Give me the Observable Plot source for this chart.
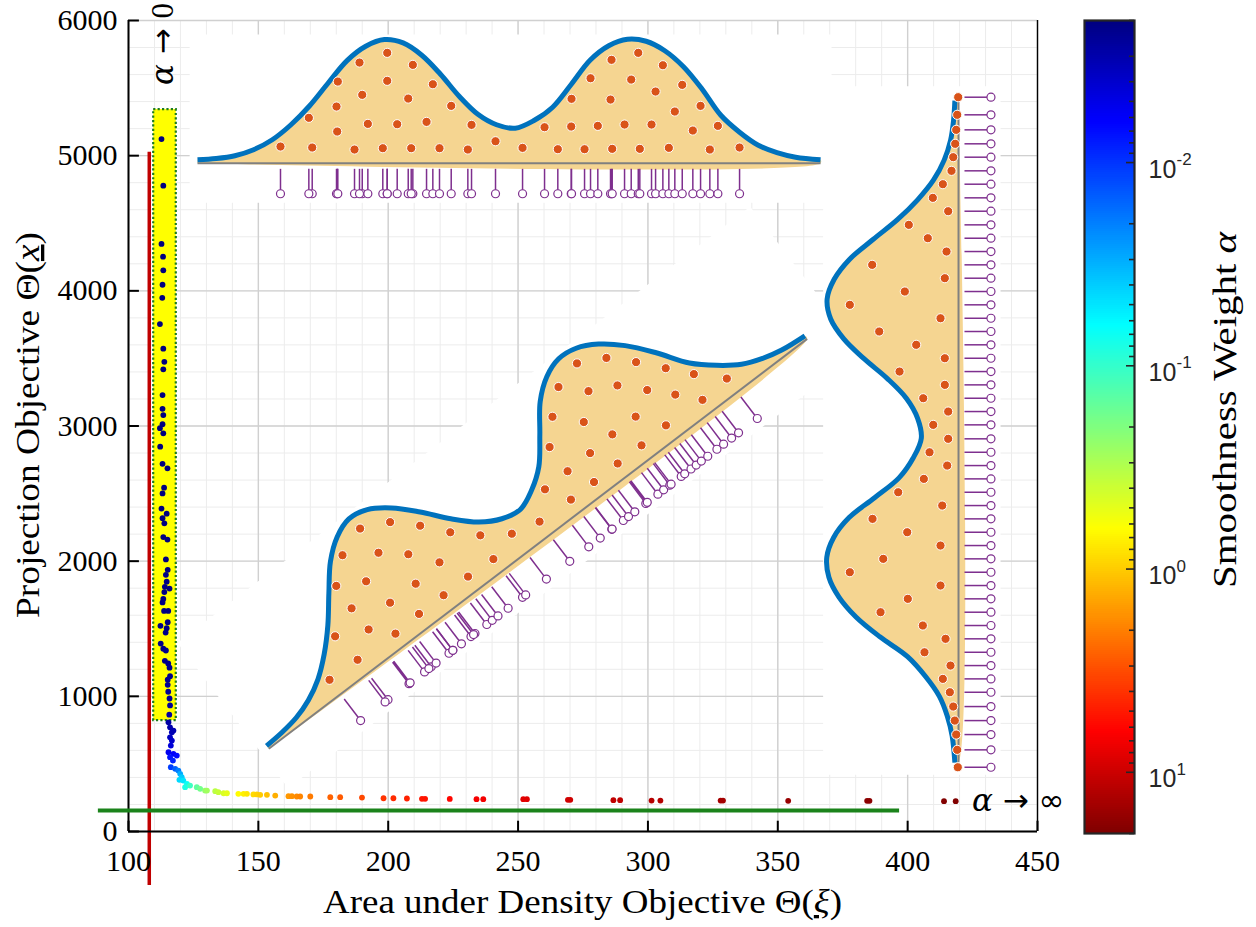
<!DOCTYPE html>
<html><head><meta charset="utf-8">
<script src="https://cdn.jsdelivr.net/npm/d3@7"></script>
<script src="https://cdn.jsdelivr.net/npm/@observablehq/plot@0.6"></script>
<style>
html,body{margin:0;padding:0;background:#fff;}
#wrap{position:relative;width:1256px;height:927px;overflow:hidden;background:#fff;}
#wrap svg{position:absolute;top:0;overflow:visible;}
</style></head><body><div id="wrap"></div>
<script>
// ---------------- data ----------------
const frontX = [112.7,113.4,112.7,113.3,113.4,113.1,113.0,112.1,113.4,113.8,113.4,113.1,113.1,113.4,113.1,112.1,113.4,112.2,113.1,115.0,113.7,113.1,112.7,114.7,113.1,113.8,113.4,115.0,114.4,115.1,114.4,114.7,114.0,115.8,113.8,113.4,113.1,113.7,115.3,115.1,112.3,114.7,114.3,112.4,113.4,114.4,114.0,115.3,115.8,116.0,115.1,115.1,115.3,115.8,116.0,115.7,
115.4,116.0,116.7,117.3,116.0,116.7,116.3,115.4,117.3,118.6,116.0,117.1,116.3,118.0,119.2,119.9,120.5,119.6,121.1,122.5,121.8,123.7,126.3,127.6,129.5,130.2,133.4,134.6,136.6,137.9,142.3,144.3,145.6,148.1,149.4,150.7,153.3,156.5,161.6,162.9,164.8,166.1,170.0,177.7,181.5,189.9,198.2,202.0,207.2,213.0,214.2,
223.7,234.0,236.6,252.0,253.4,269.2,270.1,286.7,289.3,301.4,304.8,328.0,328.9,354.0,384.4,385.3,414.0,418.5];
const frontY = [5123,4778,4347,4253,4152,4045,3948,3754,3572,3475,3419,3229,3127,3081,3013,2984,2946,2847,2720,2687,2544,2501,2389,2351,2318,2280,2178,2160,2013,1936,1899,1848,1810,1797,1771,1720,1695,1632,1632,1548,1522,1504,1472,1390,1352,1339,1263,1243,1212,1149,1123,1085,1034,984,933,864,
808,771,734,747,697,673,636,587,575,562,550,525,476,464,451,427,402,382,377,353,328,340,328,316,303,303,298,291,283,283,279,279,279,274,274,271,271,266,261,261,259,259,259,254,254,251,246,246,244,242,242,
241,239,239,239,239,234,234,232,232,229,229,229,229,227,227,227,224,224];
const frontAlpha = [0.0020,0.0020,0.0020,0.0020,0.0020,0.0020,0.0020,0.0020,0.0020,0.0020,0.0020,0.0020,0.0020,0.0020,0.0020,0.0020,0.0020,0.0020,0.0020,0.0020,0.0020,0.0020,0.0020,0.0020,0.0020,0.0020,0.0020,0.0020,0.0020,0.0020,
0.0021,0.0021,0.0021,0.0021,0.0021,0.0021,0.0021,0.0021,0.0021,0.0021,0.0022,0.0022,0.0022,0.0022,0.0022,0.0022,0.0022,0.0022,0.0023,0.0023,0.0024,0.0024,0.0025,0.0025,0.0026,0.0027,
0.0028,0.003,0.0033,0.0032,0.0036,0.004,0.0045,0.0055,0.006,0.0068,0.0075,0.0085,0.011,0.015,0.02,0.03,0.04,0.045,0.05,0.07,0.08,0.11,0.15,0.18,0.24,0.27,0.34,0.38,0.45,0.5,0.65,0.72,0.78,0.88,0.94,1.0,1.1,1.3,1.6,1.7,1.8,1.9,2.1,2.6,2.8,3.3,4.0,4.3,4.7,5.2,5.3,
6.0,6.8,7.0,8.2,8.3,9.6,9.7,11.0,11.2,12.2,12.4,14.2,14.3,16.0,17.8,17.9,19.4,19.6];

// density profile of the insets (position along baseline 0..1000, height)
const densityU = [0,30,60,90,120,150,180,210,240,270,300,330,360,390,420,450,480,510,540,570,600,630,660,690,720,750,780,810,840,870,900,930,960,1000];
const densityH = [5.5,7.5,12,21.7,37.7,61.8,92.3,129.2,164.8,187.8,198.5,193.1,173.3,142.8,107.5,78.6,61.8,56.2,68.5,89.9,126.8,165.3,188.6,199,195.8,180.6,154.9,118.8,77,49.8,28.9,16.9,9.6,5.5];

// samples shown in the top and diagonal insets
const sampleU = [133.2,184.1,178.7,224.2,223.1,225.2,252.0,264.4,260.0,273.4,297.4,304.5,304.5,320.5,338.2,345.6,343.0,367.6,377.7,388.4,407.2,433.9,439.8,478.3,521.7,557.0,578.3,599.8,600.3,621.2,630.8,642.5,664.5,662.9,665.6,685.4,696.1,707.4,709.9,728.7,735.2,746.9,756.5,766.1,778.0,795.0,807.4,822.3,835.2,870.0];
const sampleH = [26.8,25.2,72.9,50.9,91.0,131.1,22.0,109.8,161.6,63.2,24.1,132.3,177.2,62.6,103.8,157.9,24.1,66.4,126.8,24.1,92.1,22.0,61.6,35.3,24.7,57.8,22.5,58.9,103.4,22.5,136.4,60.0,166.0,102.2,23.1,62.1,134.3,177.2,23.1,62.1,115.1,157.3,24.7,83.0,125.8,52.5,92.1,22.0,60.0,25.2];

// samples shown in the right inset
const rightU = [-5.0,21.6,44.3,65.4,85.6,106.2,126.4,147.0,167.2,187.8,208.0,228.1,248.2,268.4,288.5,308.6,328.9,348.9,369.0,389.3,409.4,429.5,449.7,469.8,489.9,511.0,531.3,551.4,571.5,591.7,611.8,631.9,652.1,672.2,692.3,712.5,732.6,752.7,772.9,793.0,813.1,833.4,853.5,873.6,893.8,915.4,936.6,957.7,980.8,1007.1];
const rightH = [0.5,2.0,3.5,5.0,8.0,10.6,23.7,38.8,15.6,75.1,46.4,18.1,130.4,20.7,81.1,164.2,27.2,119.8,63.9,20.7,89.1,20.7,53.3,15.6,38.2,15.6,43.8,17.1,52.4,91.1,24.6,129.9,77.5,27.2,113.7,164.2,27.2,76.6,117.8,53.9,19.6,51.4,12.1,23.7,13.1,8.0,5.6,3.5,2.0,1.1];

// limits / annotations
const xLimit = 108.0, xLimitTop = 5026, xLimitBottom = -400;
const yLimit = 155, yLimitLeft = 88.4, yLimitRight = 396.9;
const boxX = [109.7, 118.4], boxY = [821, 5341];

const xTicks = [100,150,200,250,300,350,400,450];
const yTicks = [0,1000,2000,3000,4000,5000,6000];
const cbMajor = [0.01,0.1,1,10];
const cbExp = ["-2","-1","0","1"];
const alphaDomain = [0.002, 20];

// ---------------- derived ----------------
const xMinor = d3.range(100, 451, 10);
const yMinor = d3.range(0, 6001, 200);
const cbMinor = [0.001,0.01,0.1,1,10].flatMap(d => [2,3,4,5,6,7,8,9].map(k => k*d)).filter(v => v >= 0.002 && v <= 20);

const jet = d3.piecewise(d3.interpolateRgb, ["#00007f","#0000ff","#007fff","#00ffff","#7fff7f","#ffff00","#ff7f00","#ff0000","#7f0000"]);
const colorOpts = {type: "log", domain: alphaDomain, interpolate: jet};

const front = frontX.map((x, i) => ({x, y: frontY[i], alpha: frontAlpha[i]}));

// inset frames (origin and unit vectors, in data units)
const frames = {
  top:   {ox: 126.57, oy: 4944, ux: 0.2399, uy: 0, hx: 0, hy: 4.609, halo: [-11, 1016, -62, 205]},
  diag:  {ox: 154.02, oy: 611.8, ux: 0.2073, uy: 3.033, hx: -0.1579, hy: 3.983, halo: [-11, 1050, -62, 205]},
  right: {ox: 419.59, oy: 5408, ux: 0, uy: -4.898, hx: -0.2549, hy: 0, halo: [-20, 1017, -62, 203]}
};
const place = (f, u, h) => ({x: f.ox + f.ux*u + f.hx*h, y: f.oy + f.uy*u + f.hy*h});

const C = {fill: "#f5d591", curve: "#0072bd", base: "#808080", purple: "#7e2f8e", dot: "#d95319"};

function haloMark(f) {
  const [u0, u1, h0, h1] = f.halo;
  const pts = [place(f,u0,h0), place(f,u1,h0), place(f,u1,h1), place(f,u0,h1), place(f,u0,h0)];
  return Plot.line(pts, {x: "x", y: "y", fill: "white", stroke: "white", strokeWidth: 2});
}
function insetMarks(f, dotsU, dotsH, stemsU) {
  const curve = densityU.map((u, i) => place(f, u, densityH[i]));
  const fillPts = [...curve, place(f, 1000, 0), place(f, 0, 0)];
  const stems = stemsU.map(u => ({a: place(f, u, -9), b: place(f, u, -49)}));
  const base = [{a: place(f, 0, 0), b: place(f, 1000, 0)}];
  const dots = dotsU.map((u, i) => place(f, u, dotsH[i]));
  return [
    Plot.line(fillPts, {x: "x", y: "y", fill: C.fill, stroke: "none", curve: "catmull-rom"}),
    Plot.link(base, {x1: d => d.a.x, y1: d => d.a.y, x2: d => d.b.x, y2: d => d.b.y, stroke: C.base, strokeWidth: 2}),
    Plot.line(curve, {x: "x", y: "y", stroke: C.curve, strokeWidth: 5, curve: "catmull-rom", strokeLinecap: "butt"}),
    Plot.link(stems, {x1: d => d.a.x, y1: d => d.a.y, x2: d => d.b.x, y2: d => d.b.y, stroke: C.purple, strokeWidth: 1.5}),
    Plot.dot(stems, {x: d => d.b.x, y: d => d.b.y, r: 4, stroke: C.purple, fill: "white", strokeWidth: 1.2}),
    Plot.dot(dots, {x: "x", y: "y", r: 4.6, fill: C.dot, stroke: "white", strokeWidth: 1})
  ];
}

const main = Plot.plot({
  width: 1256, height: 927,
  marginLeft: 128, marginRight: 219, marginTop: 20, marginBottom: 96,
  x: {domain: [100, 450]},
  y: {domain: [0, 6000]},
  color: colorOpts,
  style: {fontFamily: "'Liberation Serif', serif", fontSize: "30px", background: "transparent", color: "black", overflow: "visible"},
  marks: [
    Plot.ruleX(xMinor, {x: d => d, stroke: "#ececec", strokeWidth: 1}),
    Plot.ruleY(yMinor, {y: d => d, stroke: "#ececec", strokeWidth: 1}),
    Plot.ruleX(xTicks, {x: d => d, stroke: "#d0d0d0", strokeWidth: 1.4}),
    Plot.ruleY(yTicks, {y: d => d, stroke: "#d0d0d0", strokeWidth: 1.4}),
    haloMark(frames.top), haloMark(frames.diag), haloMark(frames.right),
    ...insetMarks(frames.top, sampleU, sampleH, sampleU),
    ...insetMarks(frames.diag, sampleU, sampleH, sampleU),
    ...insetMarks(frames.right, rightU, rightH, rightU),
    Plot.rect([0], {x1: boxX[0], x2: boxX[1], y1: boxY[0], y2: boxY[1], fill: "#ffff00", stroke: "#1e7d1e", strokeWidth: 2.2, strokeDasharray: "2.2,2.2"}),
    Plot.ruleX([xLimit], {x: d => d, y1: xLimitBottom, y2: xLimitTop, stroke: "#c00000", strokeWidth: 3.5}),
    Plot.ruleY([0], {y: d => d, stroke: "black", strokeWidth: 2}),
    Plot.ruleX([100], {x: d => d, stroke: "black", strokeWidth: 2}),
    Plot.ruleX([450], {x: d => d, y1: 0, y2: 6000, stroke: "black", strokeWidth: 1.4}),
    Plot.ruleX(xTicks, {x: d => d, y1: 0, y2: 76, stroke: "black", strokeWidth: 2}),
    Plot.ruleY(yTicks, {y: d => d, x1: 100, x2: 104.2, stroke: "black", strokeWidth: 2}),
    Plot.ruleY([yLimit], {y: d => d, x1: yLimitLeft, x2: yLimitRight, stroke: "#1b831b", strokeWidth: 4}),
    Plot.dot(front, {x: "x", y: "y", fill: "alpha", r: 2.9}),
    Plot.axisX({ticks: xTicks, tickSize: 0, tickPadding: 18, label: null, fontSize: 30, tickFormat: "d"}),
    Plot.axisY({ticks: yTicks, tickSize: 0, tickPadding: 11, label: null, fontSize: 30, tickFormat: "d"})
  ]
});
main.style.left = "0px";
document.getElementById("wrap").appendChild(main);

// colorbar
const l0 = Math.log10(alphaDomain[0]), l1 = Math.log10(alphaDomain[1]);
const N = 400;
const cbSteps = d3.range(N).map(i => ({a: 10 ** (l0 + (l1 - l0) * i / N), b: 10 ** (l0 + (l1 - l0) * (i + 1) / N), m: 10 ** (l0 + (l1 - l0) * (i + 0.5) / N)}));
const cb = Plot.plot({
  width: 196, height: 927,
  marginLeft: 24, marginRight: 122, marginTop: 20, marginBottom: 94,
  x: {domain: [0, 1], axis: null},
  y: {type: "log", domain: alphaDomain, reverse: true, axis: null},
  color: colorOpts,
  style: {fontFamily: "'Liberation Sans', Arial, sans-serif", background: "transparent", color: "#262626", overflow: "visible"},
  marks: [
    Plot.rect(cbSteps, {x1: 0, x2: 1, y1: "a", y2: "b", fill: "m", shapeRendering: "crispEdges"}),
    Plot.ruleY(cbMinor, {y: d => d, x1: 0.9, x2: 1, stroke: "#262626", strokeWidth: 1.6}),
    Plot.ruleY(cbMajor, {y: d => d, x1: 0.84, x2: 1, stroke: "#262626", strokeWidth: 1.6}),
    Plot.frame({stroke: "#262626", strokeWidth: 2.2}),
    Plot.text(cbMajor, {y: d => d, x: 1, text: () => "10", dx: 14, dy: 7, textAnchor: "start", fontSize: 25, fill: "#262626"}),
    Plot.text(cbMajor, {y: d => d, x: 1, text: (d, i) => cbExp[i], dx: 42, dy: -3, textAnchor: "start", fontSize: 17, fill: "#262626"})
  ]
});
cb.style.left = "1060px";
document.getElementById("wrap").appendChild(cb);

// text labels (mixed styles)
const NS = "http://www.w3.org/2000/svg";
function label(svgEl, {x, y, rotate = 0, size, family, anchor = "middle", parts, length}) {
  const t = document.createElementNS(NS, "text");
  t.setAttribute("transform", `translate(${x},${y}) rotate(${rotate})`);
  t.setAttribute("text-anchor", anchor);
  t.setAttribute("font-size", size);
  t.setAttribute("font-family", family);
  t.setAttribute("fill", "black");
  if (length) { t.setAttribute("textLength", length); t.setAttribute("lengthAdjust", "spacingAndGlyphs"); }
  for (const [s, st] of parts) {
    const ts = document.createElementNS(NS, "tspan");
    ts.textContent = s;
    if (st && st.italic) ts.setAttribute("font-style", "italic");
    if (st && st.underline) ts.setAttribute("text-decoration", "underline");
    if (st && st.family) ts.setAttribute("font-family", st.family);
    t.appendChild(ts);
  }
  svgEl.appendChild(t);
}
const serif = "'Liberation Serif', serif";
const dvs = "'DejaVu Sans', sans-serif";
const dvserif = "'DejaVu Serif', serif";
label(main, {x: 582.5, y: 913, size: 33, family: serif, parts: [["Area under Density Objective Θ(", {}], ["ξ", {italic: true, underline: true}], [")", {}]], length: 519});
label(main, {x: 39, y: 425, rotate: -90, size: 33, family: serif, parts: [["Projection Objective Θ(", {}], ["x", {italic: true, underline: true}], [")", {}]], length: 386});
label(cb, {x: 176, y: 410, rotate: -90, size: 33, family: serif, parts: [["Smoothness Weight ", {}], ["α", {italic: true}]], length: 356});
label(main, {x: 173, y: 44, rotate: -90, size: 31, family: serif, parts: [["α", {italic: true, family: dvserif}], [" → ", {family: dvs}], ["0", {}]]});
label(main, {x: 972, y: 811, size: 31, family: serif, anchor: "start", parts: [["α", {italic: true, family: dvserif}], [" → ∞", {family: dvs}]]});
</script>
</body></html>
